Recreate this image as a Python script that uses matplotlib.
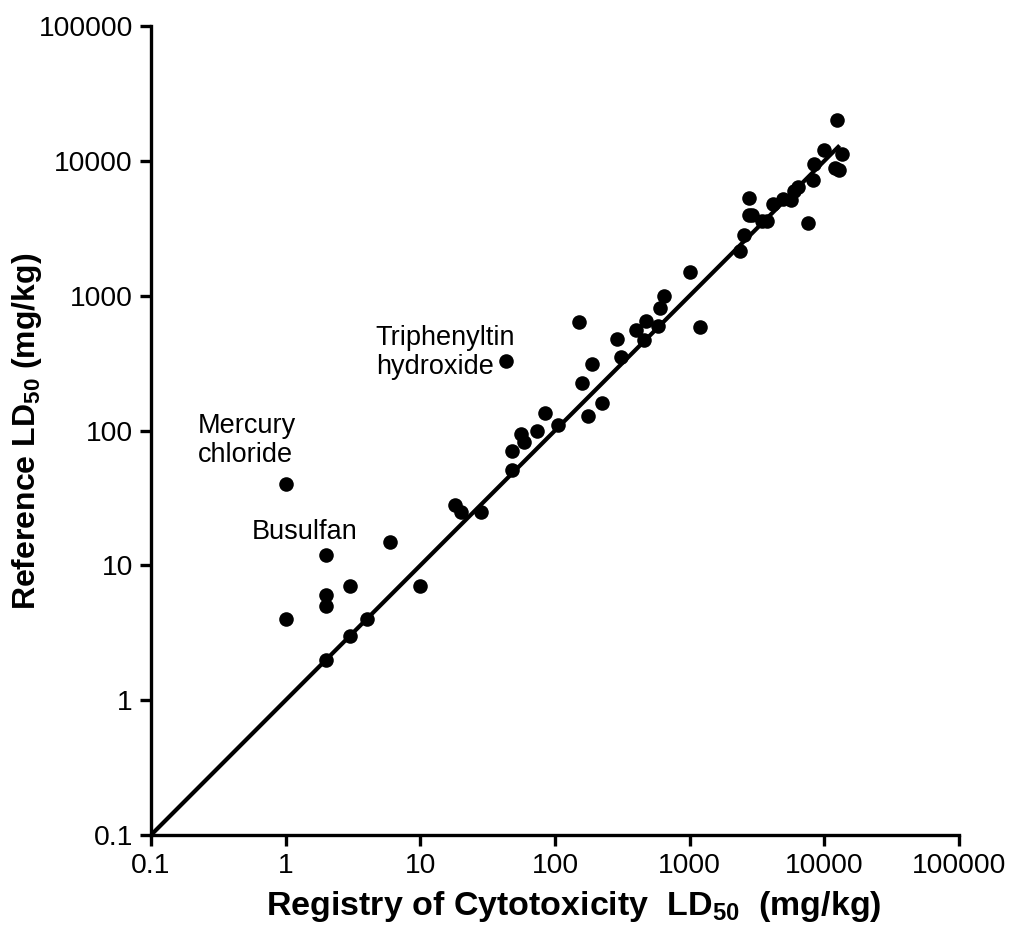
import matplotlib
matplotlib.use("Agg")
import matplotlib.pyplot as plt
import numpy as np

plt.rcParams['font.family'] = ['Liberation Sans', 'DejaVu Sans']
plt.rcParams['mathtext.default'] = 'regular'

# Registry of Cytotoxicity LD50 (x) vs Reference LD50 (y), mg/kg
reg_ld50 = [1, 1, 2, 2, 2, 2, 3, 3, 4, 6, 10, 18, 20, 28,
            43, 48, 48, 56, 59, 73, 85, 105, 158, 150, 177, 187, 225,
            290, 307, 400, 460, 470, 585, 600, 650, 1000, 1200,
            2350, 2550, 2760, 2760, 2900, 3450, 3750, 4150, 4900, 5700,
            6000, 6350, 7550, 8300, 8450, 10000, 12000, 12400, 12800, 13500]
ref_ld50 = [40, 4, 12, 6, 5, 2, 7, 3, 4, 15, 7, 28, 25, 25,
            330, 70, 51, 94, 82, 100, 135, 110, 225, 640, 128, 310, 160,
            480, 350, 555, 470, 650, 600, 810, 1000, 1500, 590,
            2150, 2800, 5300, 4000, 4000, 3600, 3600, 4750, 5200, 5100,
            6000, 6400, 3450, 7200, 9500, 12000, 8800, 20000, 8600, 11300]

line_x = [0.1, 13000]
line_y = [0.1, 13000]

ann_text = ["Mercury\nchloride", "Busulfan", "Triphenyltin\nhydroxide"]
ann_x = [0.222, 0.56, 4.66]
ann_y = [84, 17.6, 380]

W, H = 1010, 943
fig = plt.figure(figsize=(W / 100, H / 100), dpi=100)
ax = fig.add_axes([0.1495, 0.1145, 0.8, 0.8579])

ax.plot(line_x, line_y, color='black', lw=3.0, solid_capstyle='butt', zorder=2)
ax.scatter(reg_ld50, ref_ld50, s=110, color='black', zorder=3, linewidths=0)

ax.set_xscale('log')
ax.set_yscale('log')
ax.set_xlim(0.1, 100000)
ax.set_ylim(0.1, 100000)
ticks = [0.1, 1, 10, 100, 1000, 10000, 100000]
labels = ['0.1', '1', '10', '100', '1000', '10000', '100000']
ax.set_xticks(ticks)
ax.set_xticklabels(labels)
ax.set_yticks(ticks)
ax.set_yticklabels(labels)
ax.minorticks_off()

for s in ['top', 'right']:
    ax.spines[s].set_visible(False)
for s in ['left', 'bottom']:
    ax.spines[s].set_linewidth(2.4)
ax.tick_params(axis='both', which='major', length=8, width=2.4,
               labelsize=20.3, direction='out', pad=5)

fig.text(574 / W, 1 - 907 / H, 'Registry of Cytotoxicity  LD$_{50}$  (mg/kg)',
         fontsize=24.5, fontweight='bold', ha='center', va='center')
fig.text(27 / W, 1 - 431 / H, 'Reference LD$_{50}$ (mg/kg)',
         fontsize=23, fontweight='bold', ha='center', va='center', rotation=90)

for t, xv, yv in zip(ann_text, ann_x, ann_y):
    ax.text(xv, yv, t, ha='left', va='center', fontsize=19.5, linespacing=1.15)

fig.savefig('out.png', dpi=100)
